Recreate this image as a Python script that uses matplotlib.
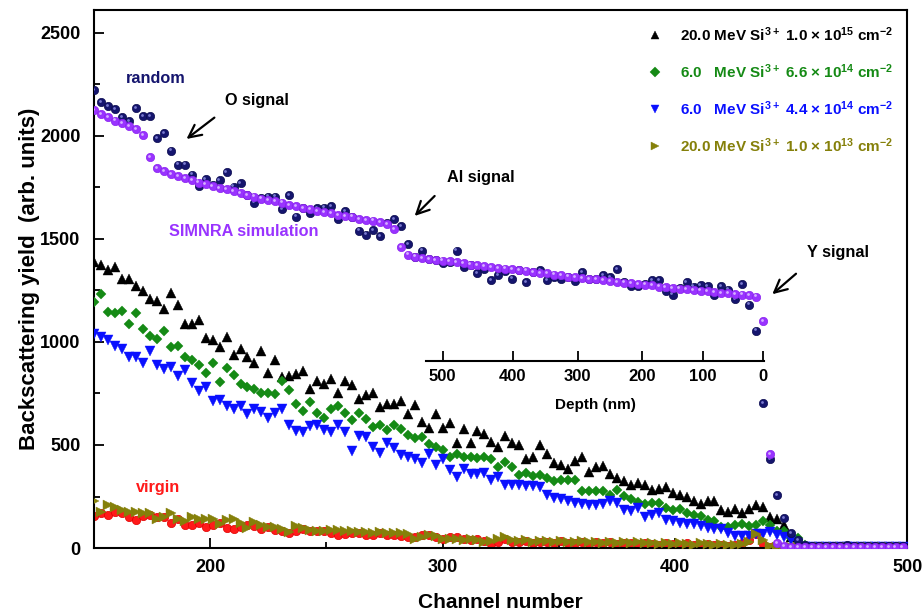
import numpy as np
import matplotlib
matplotlib.use('Agg')
import matplotlib.pyplot as plt
from matplotlib.transforms import ScaledTranslation

plt.rcParams['font.family'] = ['Liberation Sans', 'DejaVu Sans']
plt.rcParams['font.weight'] = 'bold'
plt.rcParams['mathtext.fontset'] = 'custom'
plt.rcParams['mathtext.rm'] = 'Liberation Sans:bold'
plt.rcParams['mathtext.bf'] = 'Liberation Sans:bold'
plt.rcParams['mathtext.default'] = 'rm'

# channel grid (3-channel bins)
channel = np.arange(150, 499, 3)

simnra = [2126, 2107, 2091, 2074, 2061, 2048, 2032, 2003, 1899, 1844,
          1828, 1815, 1806, 1796, 1786, 1773, 1767, 1757, 1747, 1741,
          1731, 1722, 1712, 1705, 1696, 1689, 1683, 1676, 1666, 1660,
          1650, 1644, 1637, 1631, 1625, 1616, 1612, 1608, 1598, 1592,
          1589, 1582, 1573, 1547, 1460, 1424, 1414, 1408, 1404, 1398,
          1395, 1392, 1388, 1382, 1375, 1372, 1369, 1363, 1359, 1356,
          1353, 1349, 1346, 1340, 1336, 1333, 1327, 1324, 1317, 1314,
          1311, 1307, 1304, 1301, 1295, 1291, 1288, 1285, 1281, 1278,
          1275, 1269, 1265, 1262, 1259, 1256, 1252, 1249, 1246, 1243,
          1239, 1236, 1233, 1230, 1227, 1220, 1103, 456, 23, 8,
          6, 5, 5, 5, 5, 5, 5, 5, 5, 5,
          5, 5, 5, 5, 5, 5, 5]

random_ = [2223, 2165, 2145, 2129, 2090, 2071, 2136, 2097, 2097, 1990,
           2013, 1929, 1861, 1861, 1812, 1757, 1790, 1762, 1786, 1825,
           1754, 1770, 1715, 1676, 1700, 1705, 1705, 1644, 1712, 1608,
           1652, 1628, 1650, 1652, 1660, 1595, 1637, 1605, 1540, 1521,
           1544, 1514, 1575, 1595, 1563, 1476, 1414, 1443, 1403, 1396,
           1385, 1390, 1443, 1366, 1373, 1333, 1355, 1301, 1324, 1345,
           1308, 1347, 1291, 1339, 1349, 1301, 1317, 1304, 1315, 1298,
           1338, 1308, 1305, 1326, 1316, 1354, 1289, 1272, 1272, 1279,
           1301, 1302, 1246, 1230, 1261, 1289, 1269, 1275, 1270, 1229,
           1270, 1254, 1207, 1281, 1181, 1055, 702, 430, 257, 146,
           73, 39, 14, 10, 9, 10, 9, 10, 15, 10,
           9, 10, 9, 10, 9, 10, 10]

si20_1e15 = [1390, 1375, 1349, 1362, 1304, 1304, 1272, 1246, 1207, 1200,
             1162, 1236, 1178, 1087, 1087, 1107, 1018, 1010, 974, 1023,
             935, 967, 929, 899, 955, 851, 913, 832, 835, 845,
             861, 773, 812, 798, 822, 751, 812, 790, 725, 744,
             754, 686, 699, 699, 712, 650, 693, 612, 583, 650,
             583, 608, 508, 579, 508, 566, 555, 513, 490, 544,
             508, 501, 433, 443, 498, 458, 411, 404, 385, 424,
             440, 369, 392, 398, 359, 340, 327, 304, 314, 307,
             282, 288, 295, 265, 256, 249, 227, 214, 230, 230,
             184, 175, 191, 168, 188, 207, 198, 152, 142, 110,
             55, 15, 4, 4, 4, 4, 4, 4, 4, 4,
             4, 4, 4, 4, 4, 4, 4]

si6_66e14 = [1196, 1231, 1146, 1139, 1152, 1087, 1139, 1065, 1029, 1013,
             1055, 977, 981, 929, 913, 887, 851, 897, 806, 874,
             838, 796, 783, 770, 754, 754, 748, 812, 767, 699,
             663, 709, 657, 631, 673, 689, 657, 621, 657, 625,
             589, 595, 573, 599, 579, 550, 534, 540, 505, 489,
             476, 443, 456, 440, 440, 437, 442, 432, 394, 417,
             394, 353, 366, 350, 356, 342, 327, 330, 330, 330,
             275, 278, 275, 275, 259, 282, 252, 239, 223, 214,
             220, 217, 194, 184, 188, 168, 162, 155, 136, 129,
             103, 103, 110, 117, 107, 110, 133, 110, 81, 81,
             49, 49, 16, 4, 4, 4, 4, 4, 4, 4,
             4, 4, 4, 4, 4, 4, 4]

si6_44e14 = [1039, 1023, 1010, 981, 967, 929, 926, 897, 955, 887,
             867, 880, 835, 864, 799, 764, 783, 712, 718, 689,
             676, 689, 650, 676, 660, 631, 657, 673, 596, 569,
             563, 592, 596, 575, 563, 596, 563, 472, 544, 540,
             489, 463, 508, 485, 450, 443, 433, 414, 456, 401,
             430, 379, 346, 385, 359, 359, 362, 331, 345, 308,
             308, 304, 301, 300, 298, 256, 245, 239, 230, 217,
             214, 210, 210, 214, 230, 217, 184, 181, 194, 152,
             162, 168, 136, 129, 123, 117, 117, 107, 97, 94,
             94, 75, 58, 58, 58, 68, 68, 78, 62, 55,
             39, 19, 4, 4, 4, 4, 4, 4, 4, 4,
             4, 4, 4, 4, 4, 4, 4]

si20_1e13 = [230, 175, 207, 198, 184, 175, 175, 172, 168, 139,
             149, 168, 139, 129, 149, 139, 139, 139, 117, 136,
             139, 123, 97, 126, 110, 103, 100, 91, 78, 107,
             97, 87, 81, 84, 87, 87, 84, 81, 78, 78,
             71, 78, 71, 74, 71, 68, 45, 52, 65, 58,
             42, 42, 42, 39, 45, 39, 29, 32, 45, 52,
             38, 34, 40, 31, 36, 33, 29, 35, 30, 27,
             33, 28, 31, 25, 29, 26, 30, 24, 27, 22,
             26, 21, 24, 19, 23, 20, 17, 22, 18, 15,
             19, 16, 14, 18, 30, 68, 40, 10, 4, 3,
             3, 3, 3, 3, 3, 3, 3, 3, 3, 3,
             3, 3, 3, 3, 3, 3, 3]

virgin = [155, 168, 162, 175, 172, 149, 136, 155, 162, 149,
          149, 123, 139, 113, 110, 123, 100, 113, 123, 97,
          94, 103, 113, 107, 94, 100, 87, 81, 71, 81,
          91, 84, 84, 84, 74, 65, 68, 71, 74, 65,
          65, 74, 65, 62, 58, 55, 55, 65, 62, 55,
          45, 52, 55, 45, 39, 42, 32, 19, 29, 42,
          30, 27, 35, 25, 31, 28, 22, 33, 26, 24,
          30, 21, 27, 23, 29, 20, 25, 22, 18, 26,
          21, 17, 23, 19, 15, 22, 17, 14, 19, 13,
          16, 12, 15, 25, 39, 70, 19, 5, 3, 3,
          3, 3, 3, 3, 3, 3, 3, 3, 3, 3,
          3, 3, 3, 3, 3, 3, 3]

# depth scale (nm) and corresponding channel positions
depth_labels = [500, 400, 300, 200, 100, 0]
depth_channel = [300.0, 330.2, 358.2, 385.8, 412.0, 437.9]

fig = plt.figure(figsize=(9.23, 6.13), dpi=100)
ax = fig.add_axes([0.102, 0.106, 0.881, 0.878])

ion_series = [
    (si20_1e15, '^', 'black', r'20.0 MeV Si$^{3+}$ 1.0 $\times$ 10$^{15}$ cm$^{-2}$'),
    (si6_66e14, 'D', '#158a15', r'6.0   MeV Si$^{3+}$ 6.6 $\times$ 10$^{14}$ cm$^{-2}$'),
    (si6_44e14, 'v', '#0a10ff', r'6.0   MeV Si$^{3+}$ 4.4 $\times$ 10$^{14}$ cm$^{-2}$'),
    (si20_1e13, '>', '#85800a', r'20.0 MeV Si$^{3+}$ 1.0 $\times$ 10$^{13}$ cm$^{-2}$'),
]

ax.plot(channel, virgin, 'o', ms=6, color='#ff1a1a', mec='#e00000', mew=0.5, zorder=2)
handles = []
for vals, mk, col, lab in ion_series:
    ms = 5.5 if mk == 'D' else 7
    h, = ax.plot(channel, vals, mk, ms=ms, color=col, mec=col, mew=0.3, label=lab, zorder=3)
    handles.append(h)

hl = ScaledTranslation(-1.2 / 100, 1.2 / 100, fig.dpi_scale_trans)
ax.plot(channel, random_, 'o', ms=6, color='#15156e', mec='#0c0c50', mew=0.5, zorder=4)
ax.plot(channel, random_, 'o', ms=2, color='#7a7ad0', mew=0, zorder=4,
        transform=ax.transData + hl)
ax.plot(channel, simnra, 'o', ms=6, color='#9933ff', mec='#8a22ee', mew=0.5, zorder=5)
ax.plot(channel, simnra, 'o', ms=2, color='#d6b0ff', mew=0, zorder=5,
        transform=ax.transData + hl)

ax.set_xlim(150, 500)
ax.set_ylim(0, 2612)
ax.set_xticks([200, 300, 400, 500])
ax.set_xticks([250, 350, 450], minor=True)
ax.set_yticks([0, 500, 1000, 1500, 2000, 2500])
ax.set_yticks([250, 750, 1250, 1750, 2250], minor=True)
ax.tick_params(which='both', direction='in', labelsize=13, top=False, right=False, width=1.3)
ax.tick_params(which='major', length=7)
ax.tick_params(which='minor', length=4)
ax.tick_params(axis='x', pad=8)
ax.tick_params(axis='y', pad=10)
for s in ax.spines.values():
    s.set_linewidth(1.5)
ax.set_xlabel('Channel number', fontsize=15, fontweight='bold', labelpad=12)
ax.set_ylabel('Backscattering yield  (arb. units)', fontsize=16, fontweight='bold', labelpad=0)

# annotations
ax.text(163.5, 2277, 'random', color='#15156e', fontsize=11.7, fontweight='bold', va='center')
ax.text(206.5, 2171, 'O signal', color='black', fontsize=11.7, fontweight='bold', va='center')
ax.text(301.7, 1796, 'Al signal', color='black', fontsize=11.7, fontweight='bold', va='center')
ax.text(456.9, 1432, 'Y signal', color='black', fontsize=11.7, fontweight='bold', va='center')
ax.text(182.3, 1534, 'SIMNRA simulation', color='#9933ff', fontsize=11.7, fontweight='bold', va='center')
ax.text(168.1, 296, 'virgin', color='#ff1a1a', fontsize=11.7, fontweight='bold', va='center')
arrow = dict(arrowstyle='->,head_width=0.45,head_length=0.9', color='black', lw=1.6)
ax.annotate('', xy=(188.8, 1977), xytext=(202.7, 2097), arrowprops=arrow)
ax.annotate('', xy=(287.1, 1602), xytext=(297.4, 1718), arrowprops=arrow)
ax.annotate('', xy=(441.0, 1223), xytext=(453.0, 1340), arrowprops=arrow)

leg = ax.legend(handles=handles, loc='upper left', bbox_to_anchor=(0.662, 0.997),
                frameon=False, fontsize=11, labelspacing=1.2, handletextpad=1.0,
                handlelength=1.2, markerscale=0.9,
                labelcolor=['black', '#158a15', '#0a10ff', '#85800a'])

# depth axis inside the plot
dax = ax.inset_axes([292.7, 908, 438.4 - 292.7, 1], transform=ax.transData)
dax.set_xlim(292.7, 438.4)
dax.patch.set_alpha(0)
for side in ['left', 'right', 'top']:
    dax.spines[side].set_visible(False)
dax.spines['bottom'].set_linewidth(1.5)
dax.set_yticks([])
dax.set_xticks(depth_channel)
dax.set_xticklabels([str(d) for d in depth_labels])
dax.tick_params(axis='x', direction='in', length=7, width=1.3, labelsize=12, pad=6)
dax.set_xlabel('Depth (nm)', fontsize=11, fontweight='bold', labelpad=10)

fig.savefig('out.png', dpi=100)
